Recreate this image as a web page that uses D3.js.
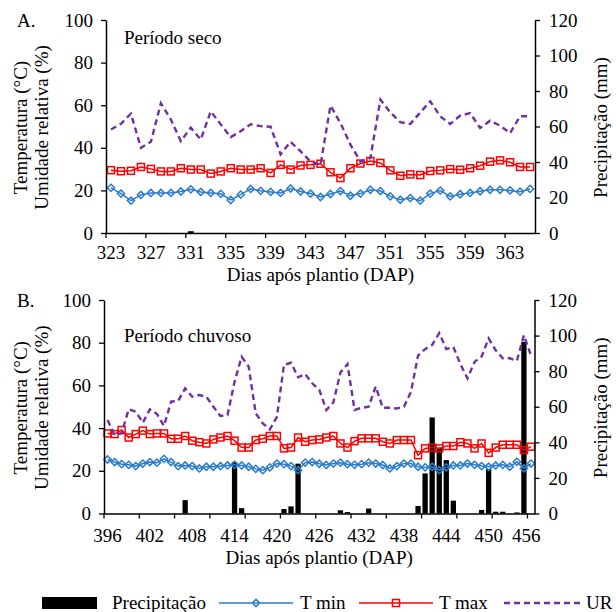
<!DOCTYPE html>
<html>
<head>
<meta charset="utf-8">
<script src="https://cdn.jsdelivr.net/npm/d3@7"></script>
<style>
body { margin: 0; background: #fff; }
svg { display: block; font-family: "Liberation Serif", "Times New Roman", serif; }
</style>
</head>
<body>
<svg id="chart" width="616" height="612"></svg>
<script>
// Periodo seco (A)
var diasA = d3.range(323, 366);
var rotulosA = [323, 327, 331, 335, 339, 343, 347, 351, 355, 359, 363];
var tminA = [21.2, 18.5, 15.2, 17.9, 18.8, 18.8, 18.8, 19.5, 20.5, 19.3,
	18.8, 18.4, 15.5, 18.0, 20.7, 19.8, 19.3, 18.8, 20.9, 19.5,
	18.5, 16.9, 18.3, 19.7, 17.5, 18.5, 20.3, 19.7, 17.2, 15.6,
	16.4, 15.2, 18.5, 19.9, 17.2, 18.2, 18.8, 19.6, 20.3, 20.3,
	20.0, 19.4, 20.7];
var tmaxA = [29.5, 29.0, 29.2, 31.0, 30.1, 28.9, 28.9, 30.4, 29.8, 29.8,
	27.9, 28.9, 30.4, 29.8, 29.8, 30.4, 28.2, 32.0, 29.8, 31.7,
	32.0, 32.5, 28.5, 25.8, 30.4, 32.6, 33.8, 32.9, 29.4, 26.9,
	27.5, 27.2, 29.1, 29.4, 30.0, 29.7, 30.4, 31.6, 33.5, 34.1,
	33.2, 31.0, 31.0];
var urA = [48.6, 51.3, 56.0, 40.0, 42.8, 60.9, 53.3, 43.1, 49.4, 43.9,
	57.1, 51.0, 45.0, 47.8, 51.1, 50.2, 49.9, 36.9, 42.8, 38.4,
	33.5, 32.0, 59.8, 51.6, 41.5, 33.6, 35.2, 62.6, 56.6, 52.0,
	51.2, 56.6, 61.8, 54.8, 51.2, 55.1, 56.3, 49.3, 52.7, 50.4,
	46.9, 54.8, 54.8];
var precA = [0, 0, 0, 0, 0, 0, 0, 0, 1.0, 0,
	0, 0, 0, 0, 0, 0, 0, 0, 0, 0,
	0, 0, 0, 0, 0, 0, 0, 0, 0, 0,
	0, 0, 0, 0, 0, 0, 0, 0, 0, 0,
	0, 0, 0];

// Periodo chuvoso (B)
var diasB = d3.range(396, 457);
var rotulosB = [396, 402, 408, 414, 420, 426, 432, 438, 444, 450, 456];
var tminB = [25.3, 24.1, 23.1, 22.8, 22.2, 23.4, 24.1, 23.8, 25.6, 24.1,
	22.2, 22.5, 22.2, 21.1, 21.9, 21.9, 22.2, 22.5, 22.8, 22.5,
	21.9, 20.9, 20.3, 21.6, 23.4, 23.1, 22.2, 20.3, 23.8, 24.1,
	23.3, 22.7, 23.4, 23.8, 23.1, 22.8, 23.1, 23.8, 23.4, 22.7,
	21.1, 22.2, 23.4, 23.4, 21.9, 21.6, 21.9, 20.3, 21.6, 22.5,
	22.5, 23.4, 22.8, 22.2, 21.9, 22.5, 22.8, 21.9, 24.2, 21.1,
	23.4];
var tmaxB = [37.5, 37.2, 39.1, 35.6, 37.2, 38.8, 37.2, 37.5, 37.5, 35.0,
	35.0, 36.3, 34.1, 33.4, 32.8, 34.7, 35.6, 36.3, 34.1, 30.9,
	30.9, 34.4, 35.0, 36.3, 36.3, 30.5, 30.9, 35.6, 33.6, 34.4,
	34.7, 35.6, 36.3, 32.8, 30.9, 33.9, 35.2, 35.2, 35.2, 33.6,
	32.8, 34.4, 34.4, 34.4, 27.3, 30.5, 30.9, 30.5, 31.6, 31.6,
	33.4, 32.8, 30.5, 32.8, 28.4, 30.9, 32.2, 32.2, 32.2, 29.7,
	31.3];
var urB = [43.8, 36.8, 37.6, 48.8, 47.7, 42.5, 48.8, 46.6, 41.0, 52.4,
	52.7, 58.6, 54.7, 55.5, 54.7, 50.0, 45.7, 46.1, 61.7, 73.4,
	68.8, 46.9, 42.2, 39.4, 45.3, 69.6, 70.6, 63.8, 65.3, 61.0,
	58.0, 48.5, 52.0, 66.0, 70.0, 48.5, 49.5, 50.0, 59.5, 49.5,
	49.5, 49.2, 50.0, 57.0, 74.0, 77.0, 79.0, 84.5, 77.0, 78.0,
	70.0, 63.3, 71.0, 73.5, 82.0, 76.5, 72.7, 72.7, 71.5, 83.5,
	74.0];
var precB = [0, 0, 0, 0, 0, 0, 0, 0, 0, 0,
	0, 7.5, 0, 0, 0, 0, 0, 0, 29.0, 3.0,
	0, 0, 0, 0, 0, 2.5, 4.0, 28.0, 0, 0,
	0, 0, 0, 1.8, 0.8, 0, 0, 2.8, 0, 0,
	0, 0, 0, 0, 4.2, 22.5, 54.0, 37.0, 30.0, 7.2,
	0, 0, 0, 2.0, 25.0, 1.0, 1.0, 0, 0.6, 96.5,
	0];

var ticksEsq = [0, 20, 40, 60, 80, 100];
var ticksDir = [0, 20, 40, 60, 80, 100, 120];

var corTmin = "#2a7ccc",
corTmax = "#ff0000",
corUR = "#7030a0";
var fonte = 19;

var svg = d3.select("#chart");

var diamante = function (r) {
	return "M0," + (-r) + "L" + r + ",0L0," + r + "L" + (-r) + ",0Z";
};

function painel(p) {
	var g = svg.append("g");
	var x = d3.scaleBand().domain(p.dias).range([p.left, p.right]);
	var w = x.bandwidth();
	var cx = function (d) {
		return x(d) + w / 2;
	};
	var y = d3.scaleLinear().domain([0, 100]).range([p.bottom, p.top]);
	var yP = d3.scaleLinear().domain([0, 120]).range([p.bottom, p.top]);

	// barras de precipitacao
	var barras = p.dias.map(function (d, i) {
		return { d: d, v: p.prec[i] };
	}).filter(function (o) {
		return o.v > 0;
	});
	g.append("g").selectAll("rect").data(barras).enter().append("rect")
		.attr("x", function (o) { return cx(o.d) - p.barra * w / 2; })
		.attr("width", p.barra * w)
		.attr("y", function (o) { return yP(o.v); })
		.attr("height", function (o) { return yP(0) - yP(o.v); })
		.attr("fill", "#000");

	var linha = d3.line()
		.x(function (v, i) { return cx(p.dias[i]); })
		.y(function (v) { return y(v); });

	// T min
	g.append("path").attr("d", linha(p.tmin))
		.attr("fill", "none").attr("stroke", corTmin).attr("stroke-width", 1.5);
	g.append("g").selectAll("path").data(p.tmin).enter().append("path")
		.attr("d", diamante(3.6))
		.attr("transform", function (v, i) { return "translate(" + cx(p.dias[i]) + "," + y(v) + ")"; })
		.attr("fill", "none").attr("stroke", corTmin).attr("stroke-width", 1.5);

	// T max
	g.append("path").attr("d", linha(p.tmax))
		.attr("fill", "none").attr("stroke", corTmax).attr("stroke-width", 1.5);
	g.append("g").selectAll("rect").data(p.tmax).enter().append("rect")
		.attr("x", function (v, i) { return cx(p.dias[i]) - 3.5; })
		.attr("y", function (v) { return y(v) - 3.5; })
		.attr("width", 7).attr("height", 7)
		.attr("fill", "none").attr("stroke", corTmax).attr("stroke-width", 1.5);

	// UR
	g.append("path").attr("d", linha(p.ur))
		.attr("fill", "none").attr("stroke", corUR).attr("stroke-width", 2.4)
		.attr("stroke-dasharray", "6,4");

	// eixos Y
	var eixoE = g.append("g").attr("transform", "translate(" + p.left + ",0)")
		.call(d3.axisLeft(y).tickValues(ticksEsq).tickSize(5).tickSizeOuter(0).tickPadding(8));
	var eixoD = g.append("g").attr("transform", "translate(" + p.right + ",0)")
		.call(d3.axisRight(yP).tickValues(ticksDir).tickSize(5).tickSizeOuter(0).tickPadding(9));

	// eixo X: marcas a cada p.marca categorias, rotulos a cada 4 ou 6
	var eixoX = g.append("g").attr("transform", "translate(0," + p.bottom + ")")
		.call(d3.axisBottom(x).tickValues(p.rotulos).tickSize(0).tickSizeOuter(0).tickPadding(p.pad));
	eixoX.selectAll(".tick").append("line")
		.attr("stroke", "none");
	g.append("g").selectAll("line").data(d3.range(0, p.dias.length, p.marca)).enter().append("line")
		.attr("x1", function (k) { return p.left + k * w; })
		.attr("x2", function (k) { return p.left + k * w; })
		.attr("y1", p.bottom).attr("y2", p.bottom + 5)
		.attr("stroke", "#000").attr("stroke-width", 1.3);

	[eixoE, eixoD, eixoX].forEach(function (e) {
		e.attr("font-family", null).attr("font-size", fonte);
		e.selectAll("text").attr("fill", "#000");
		e.selectAll("line").attr("stroke-width", 1.3);
		e.select(".domain").attr("stroke-width", 1.5);
	});

	// rotulo final nao passa do limite
	eixoX.selectAll(".tick text").each(function () {
		var t = d3.select(this);
		var len = this.getComputedTextLength();
		var tr = d3.select(this.parentNode).attr("transform");
		var px = +tr.replace(/translate\(([^,]+),.*/, "$1");
		if (px + len / 2 > p.right + 6) {
			t.attr("x", p.right + 6 - len / 2 - px);
		}
	});

	var meio = (p.top + p.bottom) / 2 + 1;
	var centroX = (p.left + p.right) / 2;

	g.append("text").attr("x", 17).attr("y", p.top + 7).attr("font-size", fonte).text(p.letra);
	g.append("text").attr("x", 124).attr("y", p.top + p.subY).attr("font-size", fonte).text(p.titulo);

	g.append("text").attr("transform", "translate(27," + meio + ") rotate(-90)")
		.attr("text-anchor", "middle").attr("font-size", fonte).text("Temperatura (°C)");
	g.append("text").attr("transform", "translate(48," + meio + ") rotate(-90)")
		.attr("text-anchor", "middle").attr("font-size", fonte).text("Umidade relativa (%)");
	g.append("text").attr("transform", "translate(607," + meio + ") rotate(-90)")
		.attr("text-anchor", "middle").attr("font-size", fonte).text("Precipitação (mm)");
	g.append("text").attr("x", centroX).attr("y", p.bottom + p.tituloX)
		.attr("text-anchor", "middle").attr("font-size", fonte).text("Dias após plantio (DAP)");
}

painel({
	dias: diasA, rotulos: rotulosA, tmin: tminA, tmax: tmaxA, ur: urA, prec: precA,
	left: 106, right: 535, top: 20, bottom: 233,
	marca: 4, barra: 0.6, pad: 12.5, tituloX: 48,
	letra: "A.", titulo: "Período seco", subY: 24
});
painel({
	dias: diasB, rotulos: rotulosB, tmin: tminB, tmax: tmaxB, ur: urB, prec: precB,
	left: 104, right: 534.5, top: 300, bottom: 513.5,
	marca: 5, barra: 0.75, pad: 15, tituloX: 50.5,
	letra: "B.", titulo: "Período chuvoso", subY: 42
});

// legenda
var leg = svg.append("g").attr("font-size", fonte);
var ly = 603;
leg.append("rect").attr("x", 42).attr("y", ly - 6).attr("width", 55).attr("height", 12).attr("fill", "#000");
leg.append("text").attr("x", 112).attr("y", ly + 6).text("Precipitação");

leg.append("line").attr("x1", 219).attr("x2", 293).attr("y1", ly).attr("y2", ly)
	.attr("stroke", corTmin).attr("stroke-width", 1.5);
leg.append("path").attr("d", diamante(3.6)).attr("transform", "translate(256," + ly + ")")
	.attr("fill", "none").attr("stroke", corTmin).attr("stroke-width", 1.5);
leg.append("text").attr("x", 300).attr("y", ly + 6).text("T min");

leg.append("line").attr("x1", 359).attr("x2", 433).attr("y1", ly).attr("y2", ly)
	.attr("stroke", corTmax).attr("stroke-width", 1.5);
leg.append("rect").attr("x", 396 - 3.5).attr("y", ly - 3.5).attr("width", 7).attr("height", 7)
	.attr("fill", "none").attr("stroke", corTmax).attr("stroke-width", 1.5);
leg.append("text").attr("x", 439).attr("y", ly + 6).text("T max");

leg.append("line").attr("x1", 504).attr("x2", 580).attr("y1", ly).attr("y2", ly)
	.attr("stroke", corUR).attr("stroke-width", 2.4).attr("stroke-dasharray", "6,4");
leg.append("text").attr("x", 586).attr("y", ly + 6).text("UR");
</script>
</body>
</html>
